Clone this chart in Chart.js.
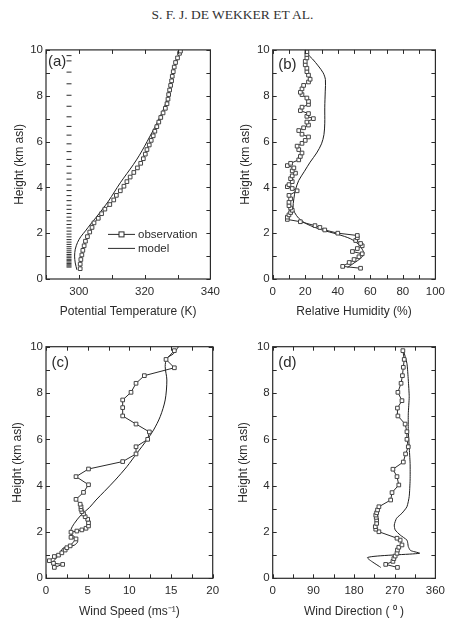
<!DOCTYPE html>
<html>
<head>
<meta charset="utf-8">
<script src="https://cdn.jsdelivr.net/npm/chart.js@4.4.1/dist/chart.umd.min.js"></script>
<style>
  body { margin: 0; background: #fff; width: 451px; height: 621px; position: relative; overflow: hidden; }
  #head { position: absolute; left: 0; top: 7px; width: 451px; padding-left: 14px; box-sizing: border-box;
          text-align: center; font: 13.5px 'Liberation Serif', 'Times New Roman', serif; color: #333; line-height: 15px; }
  canvas { position: absolute; }
</style>
</head>
<body>
<div id="head">S. F. J. DE WEKKER ET AL.</div>
<canvas id="ca" width="226" height="290" style="left:0;top:40px"></canvas>
<canvas id="cb" width="225" height="290" style="left:226px;top:40px"></canvas>
<canvas id="cc" width="226" height="285" style="left:0;top:336px"></canvas>
<canvas id="cd" width="225" height="285" style="left:226px;top:336px"></canvas>
<script>
// (a) potential temperature, K
const tempObsHeight = [0.45,0.65,0.85,1.05,1.25,1.45,1.65,1.85,2.05,2.25,2.45,2.65,2.85,3.05,3.25,3.45,3.65,3.85,4.05,4.25,4.45,4.65,4.85,5.05,5.25,5.45,5.65,5.85,6.05,6.25,6.45,6.65,6.85,7.05,7.25,7.45,7.65,7.85,8.05,8.25,8.45,8.65,8.85,9.05,9.25,9.45,9.65,9.85,9.95];
const tempObs = [300.4,300.4,300.6,300.9,301.2,301.6,302.0,302.6,303.3,304.0,304.6,305.9,306.9,307.9,309.4,310.6,311.4,312.6,313.7,314.6,315.6,316.7,317.8,318.8,319.6,320.2,320.7,321.4,322.0,322.6,323.1,323.7,324.3,324.9,325.6,326.3,326.8,327.1,327.3,327.6,327.9,328.2,328.4,328.7,329.0,329.4,330.0,330.6,330.9];
const tempModelHeight = [0.4,0.7,1.0,1.3,1.6,1.85,2.1,2.4,2.7,3.05,3.4,3.8,4.2,4.6,5.0,5.4,5.8,6.2,6.6,7.0,7.4,7.8,8.3,8.8,9.3,9.7,10.0];
const tempModel = [299.4,298.9,298.7,298.9,299.6,300.6,302.0,303.6,305.3,307.2,309.0,310.8,312.6,314.6,316.6,318.4,320.0,321.5,323.0,324.4,325.7,326.7,327.6,328.4,329.3,330.2,330.9];
const modelLevels = [9.75,9.52,9.03,8.52,8.02,7.54,7.08,6.66,6.28,5.9,5.56,5.22,4.92,4.62,4.36,4.1,3.86,3.64,3.42,3.22,3.04,2.86,2.7,2.54,2.38,2.23,2.09,1.96,1.84,1.72,1.61,1.51,1.41,1.32,1.23,1.15,1.07,1.0,0.93,0.86,0.8,0.74,0.68,0.62,0.57,0.52];
const levelTemp = 297;

// (b) relative humidity, %
const rhObsHeight = [0.47,0.55,0.72,0.85,0.97,1.1,1.2,1.33,1.45,1.55,1.68,1.8,1.9,2.0,2.14,2.25,2.33,2.5,2.6,2.7,2.8,2.9,3.0,3.1,3.2,3.35,3.5,3.65,3.85,3.95,4.03,4.12,4.25,4.38,4.5,4.62,4.72,4.85,4.95,5.05,5.2,5.35,5.5,5.65,5.8,5.92,6.05,6.2,6.32,6.48,6.6,6.72,6.85,7.0,7.1,7.22,7.35,7.5,7.62,7.75,7.9,8.05,8.15,8.3,8.45,8.6,8.72,8.9,9.05,9.2,9.35,9.5,9.65,9.8,9.92];
const rhObs = [54,43,47,50,53,55,49,52,55,54,51,52,52,40,32,29,26,17,9,9,10,11,12,11,10,10,11,10,15,12,9,10,12,11,12,14,12,13,9,11,16,17,18,16,15,18,20,22,18,16,19,22,21,25,21,22,17,18,22,22,21,18,17,18,19,22,23,22,21,21,20,20,21,21,21];
const rhModelHeight = [0.5,0.7,0.9,1.1,1.3,1.5,1.75,1.95,2.15,2.4,2.65,2.9,3.1,3.5,3.9,4.3,4.7,5.1,5.5,5.9,6.3,6.8,7.5,8.2,8.7,9.0,9.3,9.6,9.85,10.0];
const rhModel = [46,50,54,56,55,53,48,40,30,21,16,13.5,12.5,13,14,16,19.5,23,27,30,31.5,32,32,32.3,32.4,31,28,24.5,21,20];

// (c) wind speed, m/s
const wsObsHeight = [0.47,0.6,0.65,0.76,0.94,1.0,1.1,1.22,1.32,1.4,1.7,1.77,1.99,2.04,2.09,2.16,2.26,2.4,2.55,2.66,2.78,2.88,2.98,3.09,3.2,3.41,3.71,4.04,4.39,4.72,5.04,5.37,5.68,6.0,6.32,6.66,7.01,7.37,7.7,8.03,8.42,8.75,9.09,9.45,9.83];
const wsObs = [1.0,2.0,0.9,0.4,1.0,1.5,1.9,2.3,2.5,2.9,3.6,3.0,3.0,3.7,4.3,4.8,5.1,5.1,5.0,4.7,4.5,4.3,4.2,4.2,4.1,3.6,4.5,5.1,3.6,5.1,9.2,10.8,10.8,12.2,12.4,10.8,9.2,9.2,9.2,10.2,10.8,11.8,15.4,14.4,15.4];
const wsModelHeight = [0.7,0.86,1.0,1.15,1.29,1.36,1.43,1.58,1.72,1.9,2.1,2.37,2.73,3.05,3.38,3.75,4.24,4.82,5.4,5.97,6.4,6.98,7.7,8.56,9.14,9.5,9.7,10.0];
const wsModel = [0.8,1.2,1.5,1.8,2.0,2.6,3.4,3.8,3.6,3.1,3.0,3.4,4.2,5.2,6.0,7.0,8.3,9.7,10.9,12.1,12.9,13.7,14.3,14.5,14.3,14.5,15.3,15.9];

// (d) wind direction, degrees
const wdObsHeight = [0.47,0.6,0.73,0.85,0.96,1.08,1.22,1.34,1.44,1.65,1.73,2.01,2.12,2.23,2.37,2.52,2.63,2.73,2.83,2.95,3.09,3.38,3.7,4.03,4.39,4.71,5.02,5.37,5.68,6.0,6.33,6.66,7.01,7.35,7.67,8.03,8.42,8.75,9.11,9.45,9.83];
const wdObs = [276,250,266,268,271,275,276,279,286,282,275,235,228,227,230,230,229,228,230,232,235,261,264,279,275,266,289,294,300,297,297,293,277,276,286,277,284,287,289,291,288];
const wdModelHeight = [0.47,0.9,1.08,1.2,1.37,1.5,1.65,1.87,2.09,2.3,2.59,2.81,3.09,3.53,4.24,4.96,5.68,6.4,7.1,7.84,8.56,9.28,9.86];
const wdModel = [239,210,325,305,300,299,297,282,271,269,274,286,297,302,304,304,302,300,300,302,300,297,289];

const FONT = "'Liberation Sans', Arial, sans-serif";
const INK = '#2b2b2b';

const pts = (xs, hs) => xs.map((v, i) => ({ x: v, y: hs[i] }));

const obsSet = (xs, hs) => ({
  label: 'observation', data: pts(xs, hs), showLine: true,
  borderColor: INK, borderWidth: 1,
  pointStyle: 'rect', pointRadius: 2.6, pointBorderWidth: 1,
  pointBorderColor: '#444', pointBackgroundColor: '#fff'
});
const modelSet = (xs, hs, tension) => ({
  label: 'model', data: pts(xs, hs), showLine: true,
  borderColor: '#1e1e1e', borderWidth: 1, pointRadius: 0, tension
});

// inward ticks on all four sides, frame, panel tag, in-plot legend
const decor = {
  id: 'decor',
  afterDraw(chart, args, o) {
    const { ctx, chartArea: a, scales: { x, y } } = chart;
    ctx.save();
    ctx.strokeStyle = INK;
    ctx.lineWidth = 1;
    ctx.beginPath();
    for (const t of x.ticks) {
      const p = Math.round(x.getPixelForValue(t.value)) + 0.5;
      ctx.moveTo(p, a.bottom); ctx.lineTo(p, a.bottom - 4);
      ctx.moveTo(p, a.top); ctx.lineTo(p, a.top + 4);
    }
    for (const t of y.ticks) {
      const p = Math.round(y.getPixelForValue(t.value)) + 0.5;
      ctx.moveTo(a.left, p); ctx.lineTo(a.left + 4, p);
      ctx.moveTo(a.right, p); ctx.lineTo(a.right - 4, p);
    }
    ctx.stroke();
    ctx.lineWidth = 1.2;
    ctx.strokeRect(a.left, a.top, a.width, a.height);

    ctx.fillStyle = INK;
    ctx.font = '15px ' + FONT;
    ctx.fillText(o.tag, a.left + o.tagX, a.top + o.tagY);

    if (o.legend) {
      const sets = chart.data.datasets;
      const x0 = a.left + 62, x1 = a.left + 89, y0 = a.top + 184, y1 = a.top + 198;
      ctx.lineWidth = 1;
      ctx.beginPath();
      ctx.moveTo(x0, y0 + 0.5); ctx.lineTo(x1, y0 + 0.5);
      ctx.moveTo(x0, y1 + 0.5); ctx.lineTo(x1, y1 + 0.5);
      ctx.stroke();
      const mx = (x0 + x1) / 2;
      ctx.fillStyle = '#fff';
      ctx.fillRect(mx - 2.5, y0 - 2, 5, 5);
      ctx.strokeRect(mx - 2.5, y0 - 2, 5, 5);
      ctx.fillStyle = INK;
      ctx.font = '11.5px ' + FONT;
      ctx.textBaseline = 'middle';
      ctx.fillText(sets[0].label, x1 + 3, y0 + 0.5);
      ctx.fillText(sets[1].label, x1 + 3, y1 + 0.5);
    }
    ctx.restore();
  }
};

function panel(id, o) {
  return new Chart(document.getElementById(id), {
    type: 'scatter',
    data: { datasets: o.datasets },
    plugins: [decor],
    options: {
      responsive: false,
      animation: false,
      layout: { padding: { left: 0, top: o.padTop, right: o.padRight, bottom: 0 } },
      plugins: {
        legend: { display: false },
        tooltip: { enabled: false },
        decor: { tag: o.tag, tagX: o.tagX, tagY: o.tagY, legend: !!o.legend }
      },
      scales: {
        x: {
          type: 'linear', min: o.xMin, max: o.xMax,
          grid: { display: false, drawTicks: false }, border: { display: false },
          afterFit: s => { s.height = o.xh; },
          ticks: {
            stepSize: o.xStep, autoSkip: false, maxRotation: 0, padding: 6,
            color: INK, font: { family: FONT, size: 11.5 },
            callback: v => (o.xLabel(v) ? v : '')
          },
          title: { display: true, text: o.xTitle, color: INK, font: { family: FONT, size: 12 },
                   padding: { top: 0, bottom: o.xTitlePad } }
        },
        y: {
          type: 'linear', min: 0, max: 10,
          grid: { display: false, drawTicks: false }, border: { display: false },
          afterFit: s => { s.width = o.yw; },
          ticks: {
            stepSize: 1, autoSkip: false, padding: 3,
            color: INK, font: { family: FONT, size: 11.5 },
            callback: v => (v % 2 === 0 ? v : '')
          },
          title: { display: true, text: 'Height (km asl)', color: INK, font: { family: FONT, size: 12 },
                   padding: { top: o.yTitlePad, bottom: 0 } }
        }
      }
    }
  });
}

panel('ca', {
  datasets: [
    obsSet(tempObs, tempObsHeight),
    modelSet(tempModel, tempModelHeight, 0.3),
    { label: 'levels', data: modelLevels.map(h => ({ x: levelTemp, y: h })), showLine: false,
      pointStyle: 'line', pointRadius: 2.5, borderColor: INK, pointBorderColor: INK, pointBorderWidth: 1 }
  ],
  xMin: 290, xMax: 340, xStep: 10, xLabel: v => (v - 300) % 20 === 0 && v >= 300,
  xTitle: 'Potential Temperature (K)',
  padTop: 9.3, padRight: 13, yw: 46, xh: 51, yTitlePad: 12, xTitlePad: 11,
  tag: '(a)', tagX: 2, tagY: 16, legend: true
});

panel('cb', {
  datasets: [obsSet(rhObs, rhObsHeight), modelSet(rhModel, rhModelHeight, 0.3)],
  xMin: 0, xMax: 100, xStep: 10, xLabel: v => v % 20 === 0,
  xTitle: 'Relative Humidity (%)',
  padTop: 9.3, padRight: 11, yw: 46.7, xh: 51, yTitlePad: 12, xTitlePad: 11,
  tag: '(b)', tagX: 5.5, tagY: 19
});

panel('cc', {
  datasets: [obsSet(wsObs, wsObsHeight), modelSet(wsModel, wsModelHeight, 0.3)],
  xMin: 0, xMax: 20, xStep: 2.5, xLabel: v => v % 5 === 0,
  xTitle: 'Wind Speed (ms\u207B\u00B9)',
  padTop: 10.7, padRight: 13.3, yw: 46, xh: 42.7, yTitlePad: 10, xTitlePad: 2,
  tag: '(c)', tagX: 5.5, tagY: 20
});

panel('cd', {
  datasets: [obsSet(wdObs, wdObsHeight), modelSet(wdModel, wdModelHeight, 0.2)],
  xMin: 0, xMax: 360, xStep: 45, xLabel: v => v % 90 === 0,
  xTitle: 'Wind Direction ( \u2070 )',
  padTop: 10.7, padRight: 11.7, yw: 46.7, xh: 42.7, yTitlePad: 10, xTitlePad: 2,
  tag: '(d)', tagX: 5.5, tagY: 20
});
</script>
</body>
</html>
